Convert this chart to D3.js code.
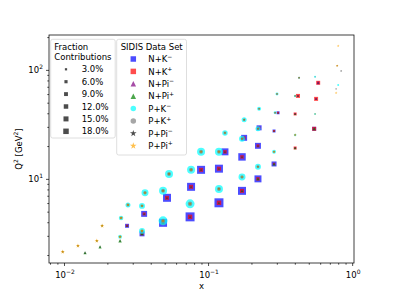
<!DOCTYPE html>
<html><head><meta charset="utf-8">
<script src="https://cdn.jsdelivr.net/npm/d3@7"></script>
<style>body{margin:0;background:#fff} svg{display:block;font-family:"DejaVu Sans",sans-serif}</style>
</head><body><svg id="c" width="394" height="296"></svg>
<script>
// ---- Proton-target points (P+...) ----
const pX  = [0.0098,0.0125,0.0169,0.0184,0.0245,0.0249,0.0278,0.0348,0.0348,0.0365,0.0487,0.0487,0.0536,0.075,0.0762,0.0894,0.119,0.119,0.131,0.172,0.172,0.178,0.222,0.222,0.226,0.287,0.292,0.301,0.402,0.402,0.428,0.553,0.553,0.80,0.774,0.774,0.787,0.839,0.80];
const pQ2 = [2.14,2.43,2.70,3.71,2.94,4.38,5.77,3.33,5.65,7.45,4.12,7.76,11.1,5.90,12.1,17.7,8.09,17.7,26.4,10.4,23.3,34.8,12.9,28.8,43.9,17.7,40.4,60.2,25.3,57.7,84.5,39.4,86.3,72.8,66.9,61.5,109,97.9,166];
const pKm  = [1.5,1.5,2,2,9.5,12,15,21,21,29,48,38,38,48,38,38,38,38,18,29,21,15,21,15,9.5,9.5,5.3,5.3,3.7,3.7,2.4,2.4,2.4,2.4,0,0,0,0,0];
const pKp  = [2.4,2,2,2,3,4,5.3,5,5.3,7.2,9.5,9.5,9.5,12,9.5,9.5,9.5,9.5,5.3,7.2,5.3,3.7,5.3,3.7,2.4,2.4,2.4,2.4,1.5,1.5,2.4,1,1,0,1.5,0,1,2,0];
const pPim = [2,2,2,2,2.4,2.4,2.4,2.4,2.4,2.4,2.4,2.4,2.4,2.4,2.4,2.4,2.4,2.4,1.5,1.5,1.5,1.5,1.5,1.5,1,1.5,1,1,1,1,1,0,0,0,0,0,1,0,0];
const pPip = [8,8,8,8,7,6,5,6,4.5,4.5,4.5,3.7,3.7,3.7,3.7,3.7,3.7,3.7,3,3,3,2.4,3,2.4,1.5,3.7,1.5,1.5,3.7,1.5,1.5,1.5,0,0,0,3,3,0,3];
// ---- Neutron-target points (N+...) ----
const nX  = [0.014,0.0178,0.0245,0.0274,0.0348,0.036,0.0487,0.0519,0.075,0.0762,0.0894,0.119,0.119,0.131,0.172,0.172,0.178,0.222,0.222,0.226,0.287,0.287,0.306,0.402,0.402,0.421,0.545,0.562,0.581];
const nQ2 = [2.10,2.38,2.70,3.71,3.13,4.77,3.95,6.70,4.48,8.45,12.1,6.03,12.4,17.7,7.76,15.9,23.8,10.0,20.1,29.4,13.7,27.5,40.4,19.2,39.4,57.7,28.8,54.2,76.1];
const nKm  = [0,0,0,9.5,14.8,21,38,38,48,38,38,48,38,29,38,33,21,29,21,15,15,5.3,5.3,2.4,2.4,2.4,9.5,2.4,3.7];
const nKp  = [0,0,0,3.7,5.3,5.3,9.5,9.5,12,9.5,9.5,12,9.5,7.2,9.5,7.2,5.3,7.2,5.3,3.7,3.7,2.4,2.4,5.3,5.3,9.5,9.5,9.5,9.5];
const nPim = [3.7,2.4,2.4,2.4,2.4,2,2,2,2,2,2,2,2,2,2,2,1.5,2,1.5,1.5,2,1,1,1.5,1,1.5,1.5,2.4,5.3];
const nPip = [6,6,7.2,2.4,5.3,2,3,2.4,2.4,2.4,2.4,2.4,2.4,2,3,2,1.5,5.3,2,1.5,5.3,1.5,1,3.7,2.4,1.5,5.3,1,1];

const seriesNames  = ["N+K","N+K","N+Pi","N+Pi","P+K","P+K","P+Pi","P+Pi"];
const seriesSigns  = ["\u2212","+","\u2212","+","\u2212","+","\u2212","+"];
const seriesColors = ["#0000ff","#ff0000","#800080","#008000","#00ffff","#808080","#000000","#ffa500"];
const seriesShapes = ["square","square","triangle","triangle","circle","circle","star","star"];
const legendFracs  = [3,6,9,12,15,18];
const xTicks = [0.01,0.1,1], xTickExp = ["\u22122","\u22121","0"];
const yTicks = [10,100], yTickExp = ["1","2"];

const svg = d3.select("#c");
const L=49,R=354,T=35,B=263;
const x = d3.scaleLog().domain([0.00787,1.03]).range([L,R]);
const y = d3.scaleLog().domain([1.69,209]).range([B,T]);
const sz = d3.scaleSqrt().domain([0,18]).range([0,5.5]);

function shapePath(shape,d){
  if(shape==="square") return d3.symbol(d3.symbolSquare,d*d)();
  if(shape==="circle") return d3.symbol(d3.symbolCircle,Math.PI*d*d/4)();
  if(shape==="star") return d3.symbol(d3.symbolStar,(d/2)*(d/2)/0.8908130915292852)();
  const h=d/2; return `M0,${-h}L${h},${h}L${-h},${h}Z`;
}

svg.append("clipPath").attr("id","clip").append("rect").attr("x",L).attr("y",T).attr("width",R-L).attr("height",B-T);
const plot = svg.append("g").attr("clip-path","url(#clip)");

const allSeries = [
  {xs:nX,qs:nQ2,f:nKm},{xs:nX,qs:nQ2,f:nKp},{xs:nX,qs:nQ2,f:nPim},{xs:nX,qs:nQ2,f:nPip},
  {xs:pX,qs:pQ2,f:pKm},{xs:pX,qs:pQ2,f:pKp},{xs:pX,qs:pQ2,f:pPim},{xs:pX,qs:pQ2,f:pPip}
];
allSeries.forEach((s,si)=>{
  const pts = s.f.map((v,i)=>({x:s.xs[i],q:s.qs[i],v})).filter(p=>p.v>0);
  plot.append("g").selectAll("path").data(pts).join("path")
    .attr("transform",p=>`translate(${x(p.x)},${y(p.q)})`)
    .attr("d",p=>shapePath(seriesShapes[si],sz(p.v)*(seriesShapes[si]==="star"?1.25:1)))
    .attr("fill",seriesColors[si]).attr("fill-opacity",0.7);
});

// axes
const minorX=[],minorY=[];
[0.001,0.01,0.1,1].forEach(dc=>{for(let k=2;k<10;k++){const v=dc*k; if(v>=0.00787&&v<=1.03) minorX.push(v);}});
[1,10,100].forEach(dc=>{for(let k=2;k<10;k++){const v=dc*k; if(v>=1.69&&v<=209) minorY.push(v);}});
function styleAxis(g){g.select(".domain").remove(); g.selectAll("line").attr("stroke","#000").attr("stroke-width",0.7); g.selectAll("text").remove();}
svg.append("g").attr("transform",`translate(0,${B})`).call(d3.axisBottom(x).tickValues(minorX).tickSize(1.7).tickFormat("")).call(styleAxis);
svg.append("g").attr("transform",`translate(0,${B})`).call(d3.axisBottom(x).tickValues(xTicks).tickSize(3).tickFormat("")).call(styleAxis);
svg.append("g").attr("transform",`translate(${L},0)`).call(d3.axisLeft(y).tickValues(minorY).tickSize(1.7).tickFormat("")).call(styleAxis);
svg.append("g").attr("transform",`translate(${L},0)`).call(d3.axisLeft(y).tickValues(yTicks).tickSize(3).tickFormat("")).call(styleAxis);
svg.append("rect").attr("x",L).attr("y",T).attr("width",R-L).attr("height",B-T).attr("fill","none").attr("stroke","#000").attr("stroke-width",0.75);

xTicks.forEach((v,i)=>{
  const t=svg.append("text").attr("x",x(v)+1).attr("y",277.5).attr("text-anchor","middle").attr("font-size",8.5);
  t.append("tspan").text("10");
  t.append("tspan").attr("dy",-3.6).attr("font-size",6).text(xTickExp[i]);
});
yTicks.forEach((v,i)=>{
  const t=svg.append("text").attr("x",43).attr("y",y(v)+3.2).attr("text-anchor","end").attr("font-size",8.5);
  t.append("tspan").text("10");
  t.append("tspan").attr("dy",-3.6).attr("font-size",6).text(yTickExp[i]);
});
svg.append("text").attr("x",201.5).attr("y",289).attr("text-anchor","middle").attr("font-size",8.5).text("x");
const yl=svg.append("text").attr("transform","translate(21.5,149) rotate(-90)").attr("text-anchor","middle").attr("font-size",8.5);
yl.append("tspan").text("Q");
yl.append("tspan").attr("dy",-3.6).attr("font-size",6).text("2");
yl.append("tspan").attr("dy",3.6).text(" [GeV");
yl.append("tspan").attr("dy",-3.6).attr("font-size",6).text("2");
yl.append("tspan").attr("dy",3.6).text("]");

// legend 1
const lg1=svg.append("g");
lg1.append("rect").attr("x",50.7).attr("y",39.3).attr("width",64.5).attr("height",98.7).attr("rx",2).attr("fill","#fff").attr("fill-opacity",0.8).attr("stroke","#d5d5d5").attr("stroke-width",0.8);
lg1.append("text").attr("x",54.3).attr("y",49.8).attr("font-size",8.5).text("Fraction");
lg1.append("text").attr("x",54.3).attr("y",59.6).attr("font-size",8.5).text("Contributions");
legendFracs.forEach((f,i)=>{
  const cy=69.3+i*12.4;
  lg1.append("path").attr("transform",`translate(66,${cy})`).attr("d",shapePath("square",sz(f))).attr("fill","#000").attr("fill-opacity",0.7);
  lg1.append("text").attr("x",81.7).attr("y",cy+3.1).attr("font-size",8.5).text(f.toFixed(1)+"%");
});
// legend 2
const lg2=svg.append("g");
lg2.append("rect").attr("x",116.7).attr("y",39.3).attr("width",69.8).attr("height",115.7).attr("rx",2).attr("fill","#fff").attr("fill-opacity",0.8).attr("stroke","#d5d5d5").attr("stroke-width",0.8);
lg2.append("text").attr("x",120.7).attr("y",49.8).attr("font-size",8.5).text("SIDIS Data Set");
seriesNames.forEach((n,i)=>{
  const cy=59+i*12.4;
  lg2.append("path").attr("transform",`translate(133.3,${cy})`).attr("d",shapePath(seriesShapes[i],seriesShapes[i]==="star"?7:5.5)).attr("fill",seriesColors[i]).attr("fill-opacity",0.7);
  const t=lg2.append("text").attr("x",148.3).attr("y",cy+3.1).attr("font-size",8.5);
  t.append("tspan").text(n);
  t.append("tspan").attr("dy",-3.6).attr("font-size",6).text(seriesSigns[i]);
});
</script></body></html>
